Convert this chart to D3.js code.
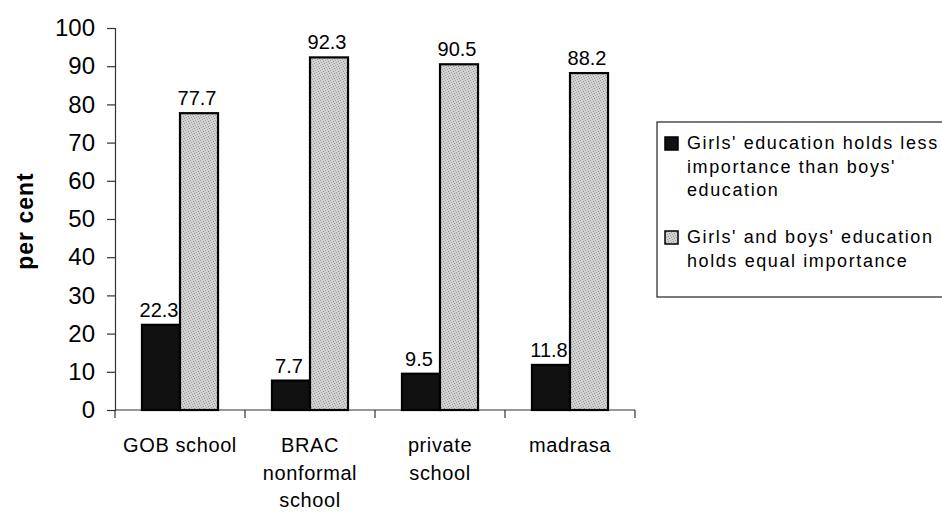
<!DOCTYPE html>
<html>
<head>
<meta charset="utf-8">
<script src="https://cdn.jsdelivr.net/npm/d3@7"></script>
<style>
  html, body { margin: 0; padding: 0; background: #fff; }
  svg { display: block; font-family: "Liberation Sans", Arial, Helvetica, sans-serif; }
</style>
</head>
<body>
<svg id="chart" width="942" height="514"></svg>
<script>
(() => {
  const categories = ["GOB school", "BRAC nonformal school", "private school", "madrasa"];
  const categoryLines = [["GOB school"], ["BRAC", "nonformal", "school"], ["private", "school"], ["madrasa"]];
  const seriesNames = ["Girls' education holds less importance than boys' education", "Girls' and boys' education holds equal importance"];
  const legendLines = [["Girls' education holds less", "importance than boys'", "education"], ["Girls' and boys' education", "holds equal importance"]];
  const lessImportance = [22.3, 7.7, 9.5, 11.8];
  const equalImportance = [77.7, 92.3, 90.5, 88.2];
  const yTicks = [0, 10, 20, 30, 40, 50, 60, 70, 80, 90, 100];

  const DARK_FILL = "#111111";
  const AXIS_COLOR = "#333333";

  const svg = d3.select("#chart");

  // stipple fill for the light bars (scattered dots, no visible direction)
  const defs = svg.append("defs");
  const pat = defs.append("pattern")
    .attr("id", "stipple")
    .attr("width", 5)
    .attr("height", 5)
    .attr("patternUnits", "userSpaceOnUse");
  pat.append("rect").attr("width", 5).attr("height", 5).attr("fill", "#d2d2d2");
  [[0, 0], [3, 1], [1, 2], [4, 3], [2, 4]].forEach(([px, py], k) => {
    pat.append("rect")
      .attr("x", px).attr("y", py)
      .attr("width", 1).attr("height", 1)
      .attr("fill", k % 2 ? "#8f8f8f" : "#a3a3a3");
  });

  const x = d3.scaleBand()
    .domain(categories)
    .range([115, 635])
    .paddingInner(0.415)
    .paddingOuter(0.2075);

  const xSub = d3.scaleBand()
    .domain([0, 1])
    .range([0, x.bandwidth()]);

  const y = d3.scaleLinear()
    .domain([0, 100])
    .range([410, 28]);

  // y axis
  const yAxis = svg.append("g")
    .attr("transform", "translate(115,0)")
    .call(d3.axisLeft(y).tickValues(yTicks).tickSize(8).tickPadding(12));
  yAxis.select(".domain").attr("stroke", AXIS_COLOR).attr("stroke-width", 1.2);
  yAxis.selectAll(".tick line").attr("stroke", AXIS_COLOR).attr("stroke-width", 1.2);
  yAxis.selectAll(".tick text")
    .attr("font-size", 24)
    .attr("fill", "#000")
    .attr("font-family", "Liberation Sans, Arial, sans-serif");

  // x axis: baseline and ticks at category boundaries
  const xAxis = svg.append("g");
  xAxis.append("line")
    .attr("x1", 115).attr("x2", 635)
    .attr("y1", y(0)).attr("y2", y(0))
    .attr("stroke", AXIS_COLOR).attr("stroke-width", 1.2);
  const step = x.step();
  const boundaries = d3.range(categories.length + 1).map((i) => 115 + i * step);
  xAxis.selectAll("line.xtick")
    .data(boundaries)
    .enter()
    .append("line")
    .attr("class", "xtick")
    .attr("x1", (d) => d).attr("x2", (d) => d)
    .attr("y1", y(0)).attr("y2", y(0) + 8)
    .attr("stroke", AXIS_COLOR).attr("stroke-width", 1.2);

  const catLabels = xAxis.selectAll("text.cat")
    .data(categories)
    .enter()
    .append("text")
    .attr("class", "cat")
    .attr("text-anchor", "middle")
    .attr("font-size", 20)
    .attr("letter-spacing", 0.6)
    .attr("fill", "#000");
  catLabels.each(function addLines(d, i) {
    const cx = x(d) + x.bandwidth() / 2;
    d3.select(this).selectAll("tspan")
      .data(categoryLines[i])
      .enter()
      .append("tspan")
      .attr("x", cx)
      .attr("y", (t, j) => 452 + j * 27.5)
      .text((t) => t);
  });

  // y axis title
  svg.append("text")
    .attr("transform", "translate(33,221) rotate(-90)")
    .attr("text-anchor", "middle")
    .attr("font-size", 23)
    .attr("font-weight", "bold")
    .attr("letter-spacing", 1)
    .attr("fill", "#000")
    .text("per cent");

  const series = [lessImportance, equalImportance];
  const fills = [DARK_FILL, "url(#stipple)"];

  series.forEach((values, s) => {
    const g = svg.append("g").attr("class", `series-${s}`);
    g.selectAll("rect")
      .data(values)
      .enter()
      .append("rect")
      .attr("x", (v, i) => x(categories[i]) + xSub(s))
      .attr("y", (v) => y(v))
      .attr("width", xSub.bandwidth())
      .attr("height", (v) => y(0) - y(v))
      .attr("fill", fills[s])
      .attr("stroke", "#000")
      .attr("stroke-width", 2.2);

    g.selectAll("text")
      .data(values)
      .enter()
      .append("text")
      .attr("x", (v, i) => x(categories[i]) + xSub(s) + xSub.bandwidth() / 2 - 2)
      .attr("y", (v) => y(v) - 8)
      .attr("text-anchor", "middle")
      .attr("font-size", 20)
      .attr("fill", "#000")
      .text((v) => v.toFixed(1));
  });

  // legend
  const legend = svg.append("g").attr("class", "legend");
  legend.append("rect")
    .attr("x", 657).attr("y", 122)
    .attr("width", 300).attr("height", 175)
    .attr("fill", "#fff")
    .attr("stroke", "#222")
    .attr("stroke-width", 1.2);

  const entryTop = [149, 243];
  seriesNames.forEach((name, s) => {
    const entry = legend.append("g").attr("class", "legend-entry");
    entry.append("rect")
      .attr("x", 665).attr("y", entryTop[s] - 12)
      .attr("width", 13).attr("height", 13)
      .attr("fill", fills[s])
      .attr("stroke", "#000")
      .attr("stroke-width", 1.5);
    entry.append("text")
      .attr("font-size", 18)
      .attr("letter-spacing", 1.6)
      .attr("fill", "#000")
      .selectAll("tspan")
      .data(legendLines[s])
      .enter()
      .append("tspan")
      .attr("x", 687)
      .attr("y", (t, j) => entryTop[s] + j * 23.5)
      .text((t) => t);
  });
})();
</script>
</body>
</html>
